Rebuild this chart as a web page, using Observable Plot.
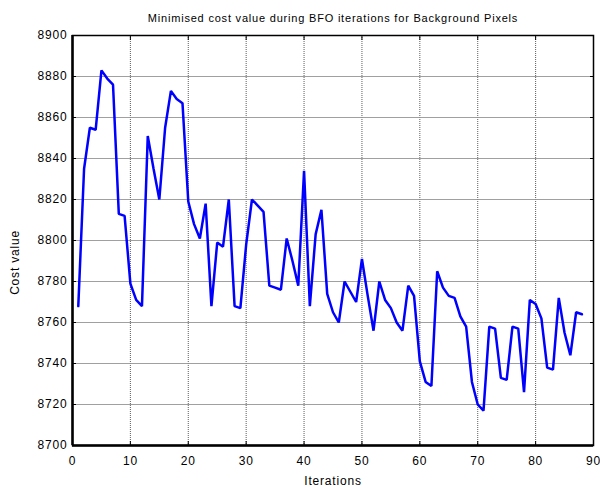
<!DOCTYPE html>
<html>
<head>
<meta charset="utf-8">
<script src="https://cdn.jsdelivr.net/npm/d3@7"></script>
<script src="https://cdn.jsdelivr.net/npm/@observablehq/plot@0.6"></script>
<style>
  html, body { margin: 0; padding: 0; background: #fff; }
</style>
</head>
<body>
<div id="chart"></div>
<script>
const title = "Minimised cost value during BFO iterations for Background Pixels";
const xLabel = "Iterations";
const yLabel = "Cost value";
const xTicks = [0, 10, 20, 30, 40, 50, 60, 70, 80, 90];
const yTicks = [8700, 8720, 8740, 8760, 8780, 8800, 8820, 8840, 8860, 8880, 8900];

const costValues = [
  8768, 8835, 8855, 8854, 8883, 8879, 8876, 8813, 8812, 8779,
  8771, 8768, 8851, 8835, 8820, 8855, 8873, 8869, 8867, 8819,
  8808, 8801, 8818, 8768, 8799, 8797, 8820, 8768, 8767, 8798,
  8820, 8817, 8814, 8778, 8777, 8776, 8801, 8790, 8778, 8834,
  8768, 8803, 8815, 8774, 8765, 8760, 8780, 8775, 8770, 8791,
  8773, 8756, 8780, 8771, 8767, 8760, 8756, 8778, 8773, 8741,
  8731, 8729, 8785, 8777, 8773, 8772, 8763, 8758, 8731, 8720,
  8717, 8758, 8757, 8733, 8732, 8758, 8757, 8726, 8771, 8769,
  8762, 8738, 8737, 8772, 8755, 8744, 8765, 8764
];
const iterations = costValues.map((_, i) => i + 1);
const data = iterations.map((it, i) => ({iteration: it, cost: costValues[i]}));

const plain = d => String(d);

const chart = Plot.plot({
  width: 600,
  height: 488,
  marginLeft: 72,
  marginRight: 7,
  marginTop: 35,
  marginBottom: 43,
  style: {fontFamily: "'Liberation Sans', Arial, sans-serif", fontSize: "12px", letterSpacing: "0.8px", background: "#fff", color: "#000"},
  x: {domain: [0, 90], ticks: xTicks},
  y: {domain: [8700, 8900], ticks: yTicks},
  marks: [
    Plot.gridX(xTicks, {stroke: "#333", strokeOpacity: 0.8, strokeDasharray: "1,1"}),
    Plot.gridY(yTicks, {stroke: "#888", strokeOpacity: 0.8}),
    Plot.line(data, {x: "iteration", y: "cost", stroke: "#0000ff", strokeWidth: 2.5, strokeLinejoin: "miter"}),
    Plot.axisX(xTicks, {anchor: "bottom", tickSize: 0, tickPadding: 11, tickFormat: plain, label: null, fontSize: 12}),
    Plot.axisY(yTicks, {anchor: "left", tickSize: 0, tickPadding: 5, tickFormat: plain, label: null, fontSize: 12}),
    Plot.axisX(xTicks, {anchor: "bottom", tickSize: -4, tickFormat: () => "", label: null, strokeWidth: 1}),
    Plot.axisX(xTicks, {anchor: "top", tickSize: -4, tickFormat: () => "", label: null, strokeWidth: 1}),
    Plot.axisY(yTicks, {anchor: "left", tickSize: -4, tickFormat: () => "", label: null, strokeWidth: 1}),
    Plot.axisY(yTicks, {anchor: "right", tickSize: -4, tickFormat: () => "", label: null, strokeWidth: 1}),
    Plot.frame({stroke: "#000", strokeWidth: 1.5}),
    Plot.ruleX([0], {stroke: "#000", strokeWidth: 2.5}),
    Plot.ruleY([8700], {stroke: "#000", strokeWidth: 2.5}),
    Plot.text([title], {frameAnchor: "top", textAnchor: "middle", lineAnchor: "middle", dy: -17, fontSize: 11, letterSpacing: 0.4}),
    Plot.text([xLabel], {frameAnchor: "bottom", textAnchor: "middle", lineAnchor: "middle", dy: 36, fontSize: 12}),
    Plot.text([yLabel], {frameAnchor: "left", textAnchor: "middle", lineAnchor: "middle", rotate: -90, dx: -57, dy: 22, fontSize: 12})
  ]
});
document.getElementById("chart").appendChild(chart);
</script>
</body>
</html>
